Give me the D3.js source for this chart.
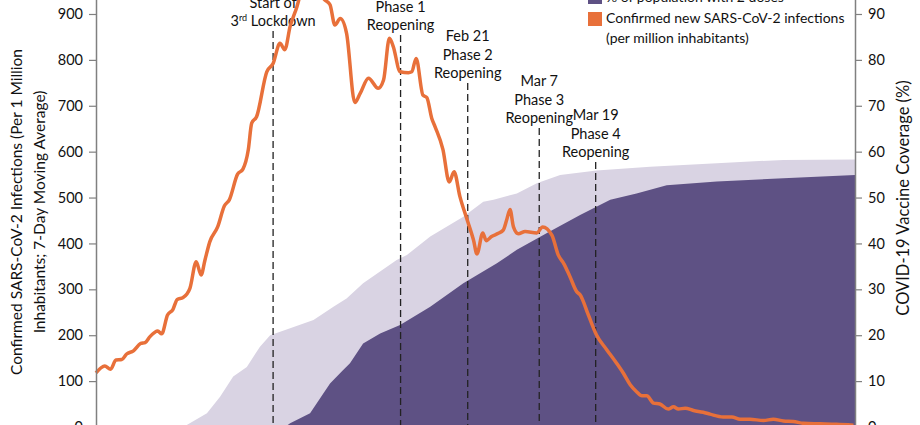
<!DOCTYPE html>
<html>
<head>
<meta charset="utf-8">
<script src="https://cdn.jsdelivr.net/npm/d3@7"></script>
<style>
body{margin:0;background:#fff}
svg{display:block;font-family:Lato,"Open Sans",sans-serif}
</style>
</head>
<body>
<svg width="920" height="425"></svg>
<script>
// days since start of the window
const day=[0,1.8,3.0,4.1,5.3,6.3,7.7,9.2,10.1,11.1,12.7,13.5,14.7,15.8,16.7,17.9,19.3,20.6,21.6,22.4,23.4,25.0,26.4,27.4,29.1,30.2,31.3,32.0,33.0,35.1,36.4,37.8,38.8,39.9,41.3,42.5,44.0,45.4,46.7,48.1,49.1,50.2,51.5,53.2,54.3,56.0,58.0,59.1,60.3,61.1,62.5,64.2,64.9,65.8,67.2,68.0,69.0,69.7,71.3,72.6,73.6,74.8,76.3,77.6,78.3,79.5,80.2,81.3,82.7,83.7,84.4,85.1,85.8,86.8,88.2,90.6,91.8,93.7,95.0,96.2,97.4,98.8,99.5,101.2,102.9,105.0,107.0,108.4,109.8,111.1,112.2,113.2,114.6,115.9,117.6,118.7,119.7,121.1,122.8,124.8,126.2,128.9,130.7,132.4,134.4,137.2,139.2,141.3,143.3,145.4,148.8,152.2,155.7]
const cases=[118,133,126,146,147,159,166,182,184,197,209,203,244,256,278,282,302,360,331,364,404,436,482,495,551,562,604,662,676,774,792,836,822,873,916,962,990,972,935,920,876,890,858,707,727,760,738,756,847,829,774,772,774,803,723,718,673,654,605,534,556,502,451,407,377,423,406,415,422,429,451,474,436,421,426,423,436,418,375,355,328,295,288,244,200,168,139,117,92,77,68,68,52,50,39,44,39,41,36,32,28,22,22,17,17,14,17,13,12,8,7,6,4]

const dose1Day=[0,15.2,18.6,22.8,25.5,28.2,31.0,33.7,35.8,39.9,44.7,48.8,51.5,54.9,61.8,63.9,68.7,75.5,79.6,81.7,86.5,90.6,95.4,102.9,113.9,127.6,141.3,156]
const dose1=[0,0,0.4,3.0,6.6,11.0,13.1,17.5,20.0,21.5,23.3,26.2,28.0,31.3,36.4,37.5,41.5,45.8,49.1,49.5,50.9,53.1,54.9,55.9,56.7,57.5,58.2,58.3]
const dose2Day=[0,38.8,39.9,44.0,48.1,50.8,52.2,54.9,58.4,62.5,68.7,75.5,82.4,86.5,92.6,99.5,105.7,111.1,117.3,127.6,141.3,156]
const dose2=[0,0,0.8,3.0,9.5,12.4,13.9,18.2,20.4,22.2,26.2,31.3,35.7,38.6,42.2,46.2,49.5,50.9,52.7,53.5,54.2,54.9]

const markerDay=[36.4,62.6,76.4,91.1,102.7]
const markerText=[["Start of","3|rd Lockdown"],["Phase 1","Reopening"],["Feb 21","Phase 2","Reopening"],["Mar 7","Phase 3","Reopening"],["Mar 19","Phase 4","Reopening"]]

const leftTicks=[0,100,200,300,400,500,600,700,800,900]
const rightTicks=[0,10,20,30,40,50,60,70,80,90]
const legendText=["% of population with 2 doses","Confirmed new SARS-CoV-2 infections","(per million inhabitants)"]

const orange="#e8703a", dark="#5e5184", light="#d9d3e3", grey="#808080"

const svg=d3.select("svg")
const x=d3.scaleLinear().domain([0,156]).range([96,855])
const y=d3.scaleLinear().domain([0,1000]).range([427,-31.9])
const yr=d3.scaleLinear().domain([0,100]).range([427,-31.9])

// vaccine areas
const a1=d3.area().x((d,i)=>x(dose1Day[i])).y0(yr(0)).y1(d=>yr(d))
svg.append("path").attr("d",a1(dose1)).attr("fill",light)
const a2=d3.area().x((d,i)=>x(dose2Day[i])).y0(yr(0)).y1(d=>yr(d))
svg.append("path").attr("d",a2(dose2)).attr("fill",dark)

// phase markers
const dashTop=[31,35,83,128,162]
markerDay.forEach((m,i)=>{
svg.append("line").attr("x1",x(m)).attr("x2",x(m)).attr("y1",dashTop[i]).attr("y2",425)
.attr("stroke","#222").attr("stroke-width",1.3).attr("stroke-dasharray","7,4")
const lines=markerText[i]
lines.forEach((t,j)=>{
const by=dashTop[i]-5-(lines.length-1-j)*18.3
const tx=svg.append("text").attr("x",x(m)).attr("y",by).attr("text-anchor","middle")
.attr("font-size",14.5).attr("fill","#111")
if(t.includes("|")){
const p=t.split("|")
tx.append("tspan").text(p[0])
tx.append("tspan").text(p[1].slice(0,2)).attr("font-size",9).attr("dy",-5)
tx.append("tspan").text(p[1].slice(2)).attr("dy",5)
}else tx.text(t)
})
})

// cases line
const ln=d3.line().x((d,i)=>x(day[i])).y(d=>y(d)).curve(d3.curveMonotoneX)
svg.append("path").attr("d",ln(cases)).attr("fill","none").attr("stroke",orange)
.attr("stroke-width",3.5).attr("stroke-linejoin","round")

// axes
const gl=svg.append("g").attr("transform","translate(96,0)")
.call(d3.axisLeft(y).tickValues(leftTicks).tickSize(7).tickPadding(6).tickSizeOuter(0))
const gr=svg.append("g").attr("transform","translate(855,0)")
.call(d3.axisRight(yr).tickValues(rightTicks).tickSize(7).tickPadding(6).tickSizeOuter(0))
;[gl,gr].forEach(g=>{
g.select(".domain").attr("stroke",grey).attr("stroke-width",1.5)
g.selectAll(".tick line").attr("stroke",grey).attr("stroke-width",1.2)
g.selectAll(".tick text").attr("font-size",14.5).attr("font-family","Lato").attr("fill","#111")
})

// axis titles
const lt=svg.append("text").attr("transform","translate(28,212) rotate(-90)")
.attr("text-anchor","middle").attr("font-size",15.5).attr("fill","#111")
lt.append("tspan").attr("x",0).attr("y",-6).text("Confirmed SARS-CoV-2 Infections (Per 1 Million")
lt.append("tspan").attr("x",0).attr("y",17).text("Inhabitants; 7-Day Moving Average)")
svg.append("text").attr("transform","translate(909,198) rotate(-90)")
.attr("text-anchor","middle").attr("font-size",16.5).attr("fill","#111")
.text("COVID-19 Vaccine Coverage (%)")

// legend
const lg=svg.append("g")
lg.append("rect").attr("x",588).attr("y",-10).attr("width",14).attr("height",14).attr("fill",dark)
lg.append("rect").attr("x",588).attr("y",12).attr("width",14).attr("height",14).attr("fill",orange)
;[1.5,23.3,43.3].forEach((b,i)=>{
lg.append("text").attr("x",606).attr("y",b).attr("font-size",14).attr("fill","#111").text(legendText[i])
})
</script>
</body>
</html>
